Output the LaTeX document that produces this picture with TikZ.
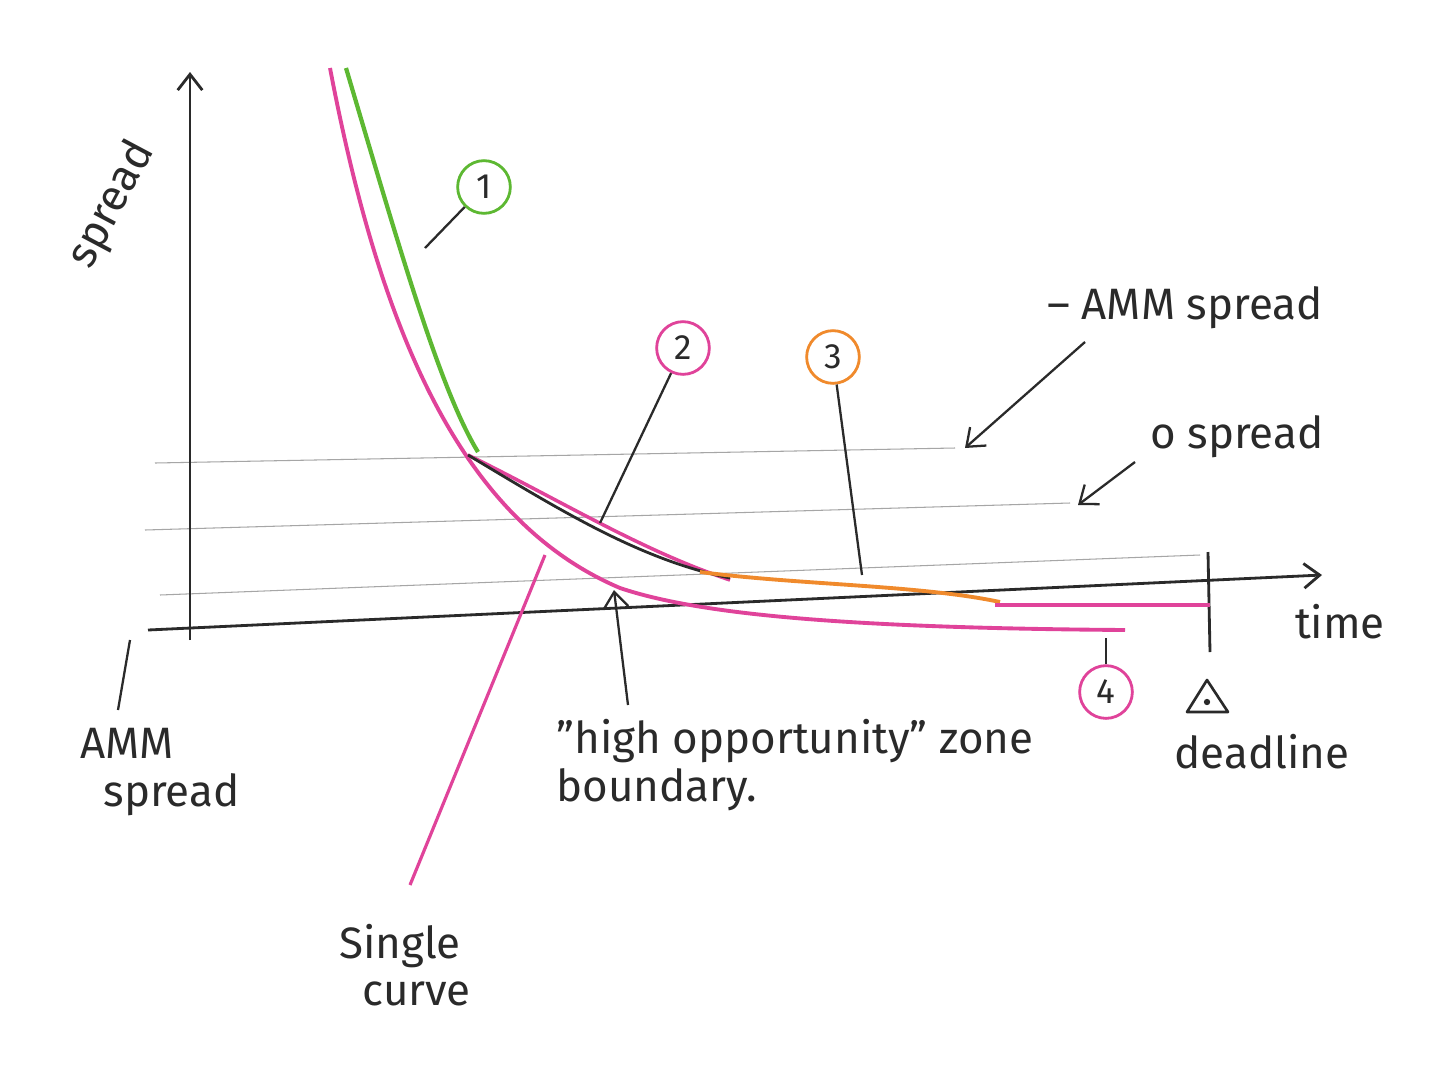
\documentclass[tikz,border=0pt]{standalone}
\usepackage{fontspec}
\setmainfont{Fira Sans}
\usetikzlibrary{arrows.meta}
\definecolor{pk}{HTML}{E0439A}
\definecolor{gr}{HTML}{5DB832}
\definecolor{og}{HTML}{F08A2C}
\definecolor{ink}{HTML}{2A2A2A}
\tikzset{
 ax/.style={ink,line width=1.6pt},
 guide/.style={gray!70,line width=0.6pt},
 lbl/.style={ink,font=\fontsize{25}{27}\selectfont,align=left},
 num/.style={circle,draw=#1,line width=1.6pt,minimum size=30pt,inner sep=0pt,font=\fontsize{20}{20}\selectfont,text=ink},
 lead/.style={ink,line width=1.3pt},
 arr/.style={ink,line width=1.3pt,-{Straight Barb[length=9pt,width=14pt]}}
}
\begin{document}
\begin{tikzpicture}[x=0.02cm,y=-0.02cm]
\useasboundingbox[fill=white] (0,0) rectangle (1448,1086);
% guides
\draw[guide] (155,463) -- (955,448);
\draw[guide] (145,530) -- (1070,503);
\draw[guide] (160,595) -- (1200,555);
% axes
\coordinate (o) at (190,640); \coordinate (ytop) at (190,72);
\draw[arr,line width=1.6pt] (o) -- (ytop);
\coordinate (xs) at (148,630); \coordinate (xe) at (1322,575);
\draw[arr,line width=1.6pt] (xs) -- (xe);
\draw[ax] (1208,552) -- (1210,652);
% curves
\draw[gr,line width=2.4pt] (346,68) .. controls (400,250) and (440,390) .. (478,452);
\draw[pk,line width=2.2pt] (330,68) .. controls (380,330) and (460,520) .. (620,588) .. controls (700,615) and (850,628) .. (1125,630);
\draw[pk,line width=2pt] (468,455) .. controls (560,500) and (640,550) .. (730,580);
\draw[ink,line width=1.6pt] (468,455) .. controls (560,510) and (640,560) .. (730,578);
\draw[og,line width=2.2pt] (700,572) .. controls (800,585) and (920,585) .. (1000,602);
\draw[pk,line width=2pt] (995,605) -- (1210,605);
% labels
\node[lbl,rotate=62] (ys) at (112,205) {spread};
\node[lbl] (xt) at (1340,622) {time};
\node[num=gr] (n1) at (484,187) {1};
\draw[lead] (425,248) -- (n1);
\node[num=pk] (n2) at (683,348) {2};
\coordinate (p2) at (600,523); \draw[lead] (p2) -- (n2);
\node[num=og] (n3) at (833,357) {3};
\coordinate (p3) at (862,575); \draw[lead] (p3) -- (n3);
\node[num=pk] (n4) at (1106,692) {4};
\coordinate (p4) at (1106,638); \draw[lead] (p4) -- (n4);
\node[lbl] (amm1) at (1185,308) {– AMM spread};
\coordinate (a1s) at (1085,342); \coordinate (a1e) at (965,448);
\draw[arr] (a1s) -- (a1e);
\node[lbl] (zero) at (1237,437) {o spread};
\coordinate (a2s) at (1135,462); \coordinate (a2e) at (1078,505);
\draw[arr] (a2s) -- (a2e);
\draw[ink,line width=1.5pt,line join=round] (1187,712) -- (1207,680) -- (1228,712) -- cycle;
\fill[ink] (1207,702) circle (1.8pt);
\node[lbl] (dl) at (1262,752) {deadline};
\node[lbl] (amm2) at (160,772) {AMM\\\ \ spread};
\draw[lead] (130,640) -- (118,710);
\node[lbl] (sc) at (405,965) {Single\\\ \ curve};
\coordinate (s1) at (545,555); \coordinate (s2) at (410,885);
\draw[pk,line width=1.8pt] (s1) -- (s2);
\coordinate (b1) at (628,705); \coordinate (b2) at (614,590);
\draw[arr] (b1) -- (b2);
\node[lbl] (hz) at (795,765) {"high opportunity" zone\\ boundary.};
\end{tikzpicture}
\end{document}
